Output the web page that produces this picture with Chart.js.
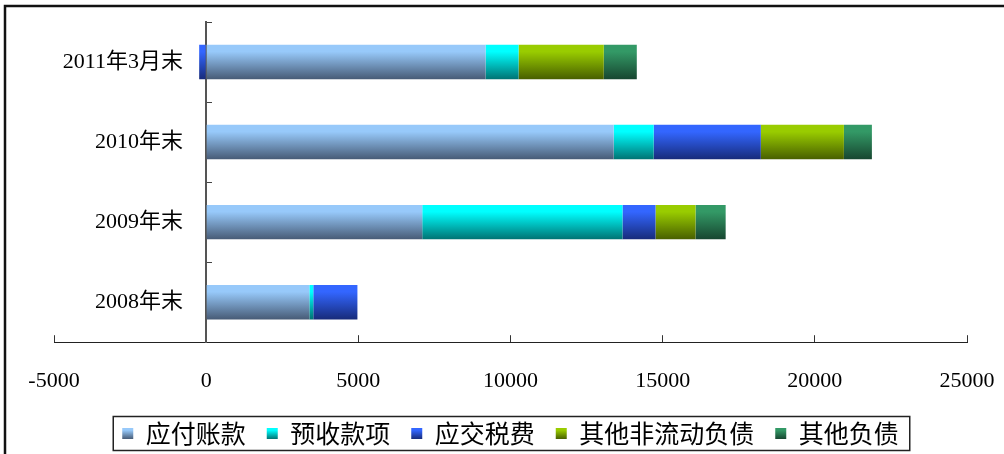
<!DOCTYPE html>
<html>
<head>
<meta charset="utf-8">
<script src="https://cdn.jsdelivr.net/npm/chart.js@4/dist/chart.umd.min.js"></script>
<style>
  html, body { margin: 0; padding: 0; background: #fff; }
  #wrap { width: 1004px; height: 454px; }
</style>
</head>
<body>
<div id="wrap"><canvas id="debtChart"></canvas></div>
<script>
// データ
const categories = ['2011年3月末', '2010年末', '2009年末', '2008年末'];
const seriesNames = ['应付账款', '预收款项', '应交税费', '其他非流动负债', '其他负债'];
const accountsPayable = [9180, 13390, 7100, 3390];
const advanceReceipts = [1085, 1315, 6580, 130];
const taxesPayable = [-230, 3520, 1085, 1450];
const otherNonCurrent = [2800, 2730, 1315, 0];
const otherLiabilities = [1085, 920, 990, 0];
const xTicks = [-5000, 0, 5000, 10000, 15000, 20000, 25000];

// 色（上が明るく下が暗いグラデーション）
const colorPairs = [
    ['#97c9fa', '#475b76'],
    ['#00ffff', '#007373'],
    ['#3366ff', '#172b7a'],
    ['#99cc00', '#485f00'],
    ['#339966', '#174630'],
];

const BAR_PCT = 0.43;
const LEGEND_FONT = 25;

function makeGradient(ctx, top, bottom, pair) {
    const g = ctx.createLinearGradient(0, top, 0, bottom);
    g.addColorStop(0, pair[0]);
    g.addColorStop(0.2, pair[0]);
    g.addColorStop(1, pair[1]);
    return g;
}

function barFill(i) {
    return function (context) {
        const chart = context.chart;
        const yScale = chart.scales.y;
        if (!chart.chartArea || !yScale || context.dataIndex === undefined) {
            return colorPairs[i][0];
        }
        const yc = yScale.getPixelForValue(context.dataIndex);
        const half = (chart.chartArea.height / categories.length) * BAR_PCT / 2;
        return makeGradient(chart.ctx, yc - half, yc + half, colorPairs[i]);
    };
}

const seriesValues = [accountsPayable, advanceReceipts, taxesPayable, otherNonCurrent, otherLiabilities];

// 枠線と凡例の枠
const framePlugin = {
    id: 'frame',
    beforeDraw(chart) {
        const legend = chart.legend;
        if (!legend || !legend.legendHitBoxes) return;
        legend.legendHitBoxes.forEach((hb, i) => {
            const top = hb.top + (LEGEND_FONT - 11) / 2;
            if (legend.legendItems[i]) {
                legend.legendItems[i].fillStyle = makeGradient(chart.ctx, top, top + 11, colorPairs[i]);
            }
        });
    },
    afterDraw(chart) {
        const ctx = chart.ctx;
        ctx.save();
        ctx.strokeStyle = '#111';
        ctx.lineWidth = 2.5;
        ctx.beginPath();
        ctx.moveTo(5, 460);
        ctx.lineTo(5, 6);
        ctx.lineTo(1010, 6);
        ctx.stroke();
        const boxes = chart.legend.legendHitBoxes;
        if (boxes && boxes.length) {
            const first = boxes[0];
            const last = boxes[boxes.length - 1];
            const cy = first.top + first.height / 2;
            ctx.strokeStyle = '#222';
            ctx.lineWidth = 1.5;
            ctx.strokeRect(first.left - 9, cy - 17, last.left + last.width + 11 - (first.left - 9), 34);
        }
        ctx.restore();
    }
};

const debtChart = new Chart(document.getElementById('debtChart').getContext('2d'), {
    type: 'bar',
    data: {
        labels: categories,
        datasets: seriesNames.map((name, i) => ({
            label: name,
            data: seriesValues[i],
            backgroundColor: barFill(i),
            borderWidth: 0,
            barPercentage: BAR_PCT,
            categoryPercentage: 1,
        }))
    },
    options: {
        indexAxis: 'y',
        responsive: true,
        maintainAspectRatio: false,
        animation: false,
        layout: {
            padding: { left: 54, right: 37, top: 22, bottom: -2 }
        },
        plugins: {
            legend: {
                position: 'bottom',
                labels: {
                    boxWidth: 11,
                    boxHeight: 11,
                    padding: 21,
                    color: '#000',
                    font: { family: '"Noto Sans CJK SC", sans-serif', size: LEGEND_FONT },
                },
            },
            title: { display: false },
            tooltip: { enabled: false },
        },
        scales: {
            x: {
                type: 'linear',
                stacked: true,
                min: -5000,
                max: 25000,
                afterBuildTicks(scale) {
                    scale.ticks = xTicks.map(v => ({ value: v }));
                },
                grid: {
                    drawOnChartArea: false,
                    tickLength: -7,
                    color: '#333',
                },
                border: { display: true, color: '#222', width: 1 },
                ticks: {
                    padding: 6,
                    color: '#000',
                    maxRotation: 0,
                    autoSkip: false,
                    // 1行目を空けてラベルを軸から離す
                    callback: (value) => ['', String(value)],
                    font: { family: '"Liberation Serif", serif', size: 22 },
                },
            },
            y: {
                type: 'category',
                stacked: true,
                position: { x: -760 },
                grid: { display: false },
                border: { display: false },
                ticks: {
                    color: '#000',
                    font: { family: '"Liberation Serif", "Noto Sans CJK SC", serif', size: 22 },
                },
            },
            y2: {
                type: 'category',
                position: { x: 0 },
                offset: true,
                grid: {
                    drawOnChartArea: false,
                    offset: true,
                    tickLength: -7,
                    color: '#444',
                },
                border: { display: true, color: '#555', width: 2 },
                ticks: { display: false },
            },
        },
    },
    plugins: [framePlugin],
});
</script>
</body>
</html>
